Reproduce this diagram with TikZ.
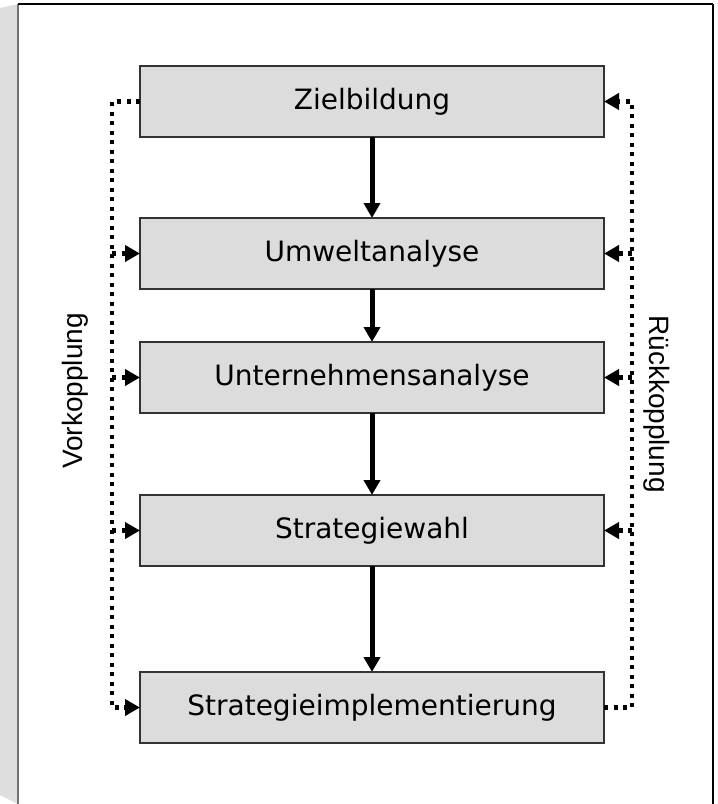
\documentclass[tikz,border=0pt]{standalone}
\usepackage{fontspec}
\setmainfont{DejaVu Sans}
\newfontfamily\labelfont{Liberation Sans}
\usetikzlibrary{positioning,arrows.meta}

\definecolor{boxgray}{HTML}{DCDCDC}
\definecolor{sidegray}{HTML}{DEDEDE}

\tikzset{
  stage/.style={draw=black!80, line width=1.6pt, fill=boxgray,
    minimum width=464pt, minimum height=71pt, inner sep=0pt, outer sep=0pt,
    font=\fontsize{28}{34}\selectfont},
  flow/.style={line width=5pt, -{Triangle[length=15pt,width=16pt]}},
  loop/.style={line width=4.2pt, dash pattern=on 4pt off 5.5pt,
    -{Triangle[length=15pt,width=16pt]}},
  sidelabel/.style={font=\labelfont\fontsize{28}{34}\selectfont}
}

\begin{document}
\begin{tikzpicture}[x=1pt,y=1pt]
  \useasboundingbox (0,0) rectangle (718,-804);

  % Frame
  \fill[sidegray] (0,-8) -- (18,-4) -- (18,-804) -- (0,-795) -- cycle;
  \fill[white] (18,-4) rectangle (713,-820);
  \draw[black!55, line width=1.4pt] (18,-820) -- (18,-4);
  \draw[black, line width=1.4pt] (18,-4) -- (713,-4);
  \draw[black, line width=2.6pt] (713,-4) -- (713,-820);

  % Define nodes
  \node[stage] (zb) at (372,-101.5) {Zielbildung};
  \node[stage, below=81pt of zb]  (ua)  {Umweltanalyse};
  \node[stage, below=53pt of ua]  (una) {Unternehmensanalyse};
  \node[stage, below=82pt of una] (sw)  {Strategiewahl};
  \node[stage, below=106pt of sw] (si)  {Strategieimplementierung};
  \coordinate (lv) at (112,0);
  \coordinate (rv) at (632,0);
  \node[sidelabel, rotate=90]  (vk) at (75,-391)  {Vorkopplung};
  \node[sidelabel, rotate=-90] (rk) at (657,-404) {Rückkopplung};

  % Connect the nodes
  \draw[flow] (zb) -- (ua);
  \draw[flow] (ua) -- (una);
  \draw[flow] (una) -- (sw);
  \draw[flow] (sw) -- (si);
  \draw[loop] (zb.west) -| (lv |- si.west) -- (si.west);
  \draw[loop] (si.east) -| (rv |- zb.east) -- (zb.east);
  \foreach \n in {ua,una,sw} {
    \draw[loop] (lv |- \n.west) -- (\n.west);
    \draw[loop] (rv |- \n.east) -- (\n.east);
  }

\end{tikzpicture}
\end{document}
